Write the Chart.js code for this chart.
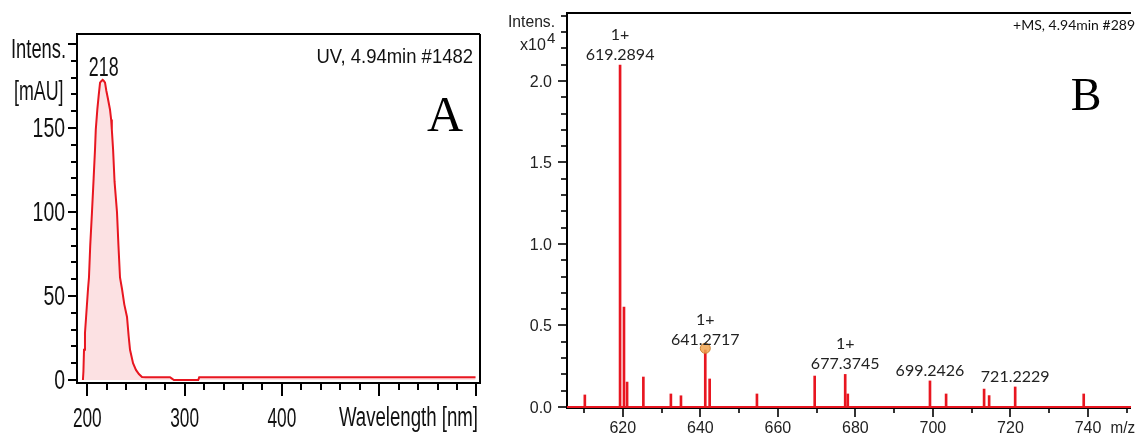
<!DOCTYPE html>
<html><head><meta charset="utf-8">
<script src="https://cdn.jsdelivr.net/npm/chart.js@4.4.1/dist/chart.umd.min.js"></script>
<style>
html,body{margin:0;padding:0;background:#fff;}
#wrap{position:relative;width:1137px;height:435px;overflow:hidden;background:#fff;}
canvas{position:absolute;top:0;}
#ca{left:0;} #cb{left:490px;}
</style></head><body>
<div id="wrap"><canvas id="ca" width="490" height="435"></canvas><canvas id="cb" width="647" height="435"></canvas></div>
<script>
// ---------- Panel A : UV spectrum ----------
const uvWavelength = [195.5,196,196.6,197.6,198.7,200.7,201.7,203,204.8,206.5,207.9,208.7,210.3,211.8,213.1,214.5,215.8,217,218.2,219.6,221,223.3,224.5,225.2,226.5,228,230.5,232,233.6,235.7,238,240.8,242.5,243.9,247,250,253,256.2,260,270,285,287,289,300,314,315,350,400,500,599];
const uvIntensity  = [0,5,18,28,37,54,61,80,100,120,137,149,161,170,177,178,178.6,178,177,172,168,161,155,149,137,118,100,80,61,54,45,37.5,26,18,10,6,3.5,1.8,1.6,1.6,1.6,0.8,0,0,0,1.6,1.6,1.6,1.6,1.6];
const uvXTicks = [200,300,400];
const uvYTicks = [0,50,100,150];
const uvPeakLabel = '218';

// ---------- Panel B : MS spectrum (intensity x10^4) ----------
const msMz        = [610.2,619.29,620.3,621.1,625.3,632.4,635.0,641.27,642.4,654.6,669.5,677.37,678.04,699.24,703.4,713.2,714.5,721.22,738.9];
const msIntensity = [0.074,2.098,0.613,0.153,0.184,0.08,0.069,0.35,0.172,0.08,0.19,0.2,0.08,0.16,0.08,0.11,0.07,0.123,0.08];
const msLabelMz     = [619.2894,641.2717,677.3745,699.2426,721.2229];
const msLabelCharge = ['1+','1+','1+','',''];
const msMarkerMz = [641.27];
const msMarkerIntensity = [0.36];
const msXTicks = [620,640,660,680,700,720,740];
const msYTicks = [0,0.5,1.0,1.5,2.0];

const RED = 'rgb(232,22,32)';

function txt(ctx, s, x, y, font, sx, align, color){
  ctx.save();
  ctx.font = font; ctx.fillStyle = color || '#111'; ctx.textBaseline = 'alphabetic'; ctx.textAlign = 'left';
  const w = ctx.measureText(s).width * sx;
  const x0 = align === 'right' ? x - w : (align === 'center' ? x - w/2 : x);
  ctx.translate(x0, y); ctx.scale(sx, 1); ctx.fillText(s, 0, 0);
  ctx.restore();
}
function line(ctx, x1, y1, x2, y2, w, c){
  ctx.save(); ctx.strokeStyle = c || '#000'; ctx.lineWidth = w; ctx.beginPath();
  ctx.moveTo(x1, y1); ctx.lineTo(x2, y2); ctx.stroke(); ctx.restore();
}

const FA = '"Liberation Sans", Arial, sans-serif';
const SXA = 0.69;

const axesA = {
  id: 'axesA',
  beforeDatasetsDraw(chart){
    const {ctx, chartArea: a, scales: {x, y}} = chart;
    // frame
    line(ctx, a.left, a.top, a.right, a.top, 2);
    line(ctx, a.right, a.top, a.right, a.bottom, 2);
  },
  afterDraw(chart){
    const {ctx, chartArea: a, scales: {x, y}} = chart;
    line(ctx, a.left, a.top - 1, a.left, a.bottom + 1, 2);
    line(ctx, a.left - 1, a.bottom, a.right + 1, a.bottom, 2);
    // y ticks
    for (let v = 0; v <= 200; v += 10) {
      const py = Math.round(y.getPixelForValue(v));
      const major = v % 50 === 0;
      line(ctx, a.left - (major ? 9 : 6), py, a.left, py, 2);
    }
    uvYTicks.forEach(v => {
      const py = y.getPixelForValue(v);
      txt(ctx, String(v), 65, py + 9.5, '27px ' + FA, 0.72, 'right');
    });
    // x ticks
    for (let v = 200; v <= 600; v += 20) {
      const px = Math.round(x.getPixelForValue(v));
      const major = v % 100 === 0;
      line(ctx, px, a.bottom, px, a.bottom + (major ? 13 : 7), 2);
    }
    uvXTicks.forEach(v => {
      txt(ctx, String(v), x.getPixelForValue(v), 427, '27px ' + FA, 0.64, 'center');
    });
    txt(ctx, 'Wavelength [nm]', 478, 426, '27px ' + FA, SXA, 'right');
    txt(ctx, 'Intens.', 11, 58, '27px ' + FA, 0.68, 'left');
    txt(ctx, '[mAU]', 14, 100, '27px ' + FA, 0.66, 'left');
    txt(ctx, 'UV, 4.94min #1482', 473, 63, '21px ' + FA, 0.88, 'right');
    txt(ctx, 'A', 445, 131, '50px "Liberation Serif", "Times New Roman", serif', 1, 'center', '#000');
    // peak label
    let imax = 0; uvIntensity.forEach((v, i) => { if (v > uvIntensity[imax]) imax = i; });
    const px = x.getPixelForValue(uvWavelength[imax]), py = y.getPixelForValue(uvIntensity[imax]);
    txt(ctx, uvPeakLabel, px + 1, py - 4, '27px ' + FA, 0.66, 'center');
  }
};

new Chart(document.getElementById('ca'), {
  type: 'line',
  data: { datasets: [{
    data: uvWavelength.map((w, i) => ({x: w, y: uvIntensity[i]})),
    borderColor: RED, borderWidth: 2, pointRadius: 0, tension: 0,
    fill: 'origin', backgroundColor: 'rgba(238,90,100,0.18)'
  }]},
  options: {
    responsive: false, animation: false,
    layout: { padding: { left: 0, top: 34, right: 10, bottom: 0 } },
    plugins: { legend: { display: false }, tooltip: { enabled: false } },
    scales: {
      x: { type: 'linear', min: 189.4, max: 603.6, grid: { display: false }, ticks: { display: false }, border: { display: false }, afterFit: s => { s.height = 52; } },
      y: { type: 'linear', min: -1.8, max: 205.9, grid: { display: false }, ticks: { display: false }, border: { display: false }, afterFit: s => { s.width = 77; } }
    }
  },
  plugins: [axesA]
});

// ---------- Panel B ----------
const FB = '"Liberation Sans", Arial, sans-serif';
const FL = 'Lato, "Open Sans", sans-serif';
const axesB = {
  id: 'axesB',
  beforeDatasetsDraw(chart){
    const {ctx, chartArea: a, scales: {x, y}} = chart;
    line(ctx, a.left, a.top, a.right, a.top, 2);
    line(ctx, a.left, a.top - 1, a.left, a.bottom + 1, 2);
    line(ctx, a.left - 1, a.bottom, a.right, a.bottom, 2);
    for (let k = 0; k <= 24; k++) {
      const v = k / 10;
      const py = Math.round(y.getPixelForValue(v));
      const major = k % 5 === 0;
      line(ctx, a.left - (major ? 9 : 6), py, a.left, py, 1.6);
    }
    msYTicks.forEach(v => {
      txt(ctx, v.toFixed(1), 62, y.getPixelForValue(v) + 6, '16px ' + FB, 1, 'right', '#222');
    });
    for (let v = 610; v <= 750; v += 10) {
      const px = Math.round(x.getPixelForValue(v));
      const major = v % 20 === 0;
      line(ctx, px, a.bottom, px, a.bottom + (major ? 9 : 5), 1.6);
    }
    msXTicks.forEach(v => {
      txt(ctx, String(v), x.getPixelForValue(v), 433, '16px ' + FB, 1, 'center', '#222');
    });
    txt(ctx, 'm/z', 645, 433, '16px ' + FB, 0.95, 'right', '#222');
  },
  afterDraw(chart){
    const {ctx, chartArea: a, scales: {x, y}} = chart;
    txt(ctx, 'Intens.', 18, 27, '16px ' + FB, 0.98, 'left', '#222');
    txt(ctx, 'x10', 30, 50, '16px ' + FB, 1, 'left', '#222');
    txt(ctx, '4', 57, 43, '15px ' + FB, 1, 'left', '#222');
    txt(ctx, '+MS, 4.94min #289', 645, 30, '14px ' + FL, 1, 'right', '#111');
    txt(ctx, 'B', 596, 110, '46px "Liberation Serif", "Times New Roman", serif', 1, 'center', '#000');
    msLabelMz.forEach((m, i) => {
      let best = 0;
      msMz.forEach((mm, j) => { if (Math.abs(mm - m) < Math.abs(msMz[best] - m)) best = j; });
      const px = x.getPixelForValue(m);
      const py = y.getPixelForValue(msIntensity[best]) - 5;
      txt(ctx, m.toFixed(4), px, py, '16px ' + FL, 1, 'center', '#222');
      if (msLabelCharge[i]) txt(ctx, msLabelCharge[i], px, py - 20, '16px ' + FL, 1, 'center', '#222');
    });
  }
};

new Chart(document.getElementById('cb'), {
  type: 'bar',
  data: { datasets: [
    { type: 'scatter', data: msMarkerMz.map((m, i) => ({x: m, y: msMarkerIntensity[i]})),
      pointRadius: 5, backgroundColor: 'rgba(240,165,80,0.85)', borderColor: 'rgb(205,130,50)', borderWidth: 1, order: 0 },
    { type: 'bar', data: msMz.map((m, i) => ({x: m, y: msIntensity[i]})),
      backgroundColor: RED, barThickness: 2, order: 2 },
    { type: 'line', data: [{x: 605.6, y: 0}, {x: 751.1, y: 0}], borderColor: RED, borderWidth: 2, pointRadius: 0, order: 1 }
  ]},
  options: {
    responsive: false, animation: false,
    layout: { padding: { left: 0, top: 13, right: 0, bottom: 0 } },
    plugins: { legend: { display: false }, tooltip: { enabled: false } },
    scales: {
      x: { type: 'linear', min: 605.6, max: 751.1, offset: false, grid: { display: false }, ticks: { display: false }, border: { display: false }, afterFit: s => { s.height = 27; } },
      y: { type: 'linear', min: -0.0061, max: 2.417, grid: { display: false }, ticks: { display: false }, border: { display: false }, afterFit: s => { s.width = 77; } }
    }
  },
  plugins: [axesB]
});
</script>
</body></html>
